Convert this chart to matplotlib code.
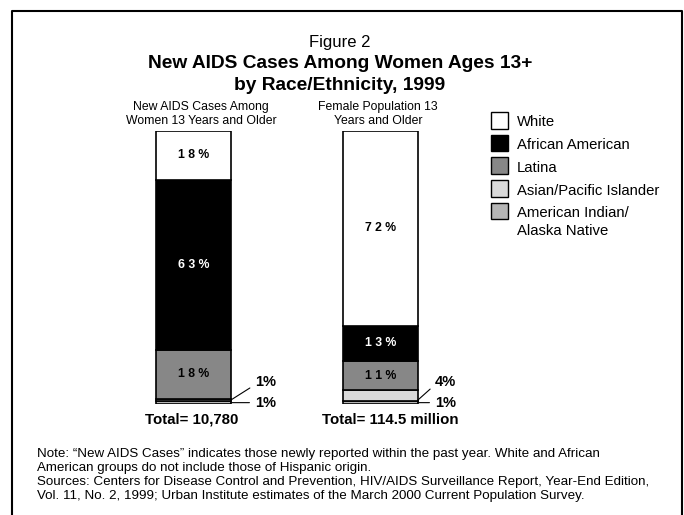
import numpy as np
import matplotlib
matplotlib.use("Agg")
import matplotlib.pyplot as plt
from matplotlib.lines import Line2D
from matplotlib.patches import Rectangle

plt.rcParams["font.family"] = ["Liberation Sans", "DejaVu Sans"]

# =========================
# data
# =========================
groups = ["New AIDS Cases Among\nWomen 13 Years and Older",
          "Female Population 13\nYears and Older"]
races = ["White", "African American", "Latina", "Asian/Pacific Islander",
         "American Indian/\nAlaska Native"]
aids_cases = [18, 63, 18, 1, 1]      # % of new AIDS cases
female_pop = [72, 13, 11, 4, 1]      # % of female population 13+
totals = ["Total= 10,780", "Total= 114.5 million"]
colors = ["#ffffff", "#000000", "#878787", "#d9d9d9", "#b5b5b5"]

note = ("Note: \u201cNew AIDS Cases\u201d indicates those newly reported within the past year. White and African\n"
        "American groups do not include those of Hispanic origin.\n"
        "Sources: Centers for Disease Control and Prevention, HIV/AIDS Surveillance Report, Year-End Edition,\n"
        "Vol. 11, No. 2, 1999; Urban Institute estimates of the March 2000 Current Population Survey.")

# =========================
# figure (pixel helpers)
# =========================
W, H = 684, 515
fig = plt.figure(figsize=(W / 100, H / 100), dpi=100)


def fx(x):
    return x / W


def fy(y):
    return 1 - y / H


# frame around everything (open at the bottom)
fig.add_artist(Line2D([fx(12), fx(12), fx(682), fx(682)],
                      [fy(530), fy(10.5), fy(10.5), fy(530)],
                      transform=fig.transFigure, color="black", lw=1.5))

fig.text(fx(340), fy(42), "Figure 2", ha="center", va="center", fontsize=12)
fig.text(fx(340), fy(64), "New AIDS Cases Among Women Ages 13+",
         ha="center", va="center", fontsize=13.8, fontweight="bold")
fig.text(fx(340), fy(86), "by Race/Ethnicity, 1999",
         ha="center", va="center", fontsize=13.8, fontweight="bold")

# =========================
# stacked bars
# =========================
ax = fig.add_axes([fx(118), fy(404), (456 - 118) / W, 273 / H])
ax.set_xlim(-0.4037, 1.4037)
ax.set_ylim(0, 101)
ax.axis("off")

bar_w = 0.401
data = [aids_cases, female_pop]
callout_dx = [24, 17]   # px from bar edge to small labels

for i, vals in enumerate(data):
    bottom = 0
    seg_bottoms = {}
    # stack from the bottom: AI/AN, Asian, Latina, African American, White
    for k in reversed(range(len(vals))):
        v = vals[k]
        ax.bar(i, v, bottom=bottom, width=bar_w, color=colors[k],
               edgecolor="black", linewidth=1.2)
        seg_bottoms[k] = bottom
        if v >= 10:
            tc = "white" if colors[k] == "#000000" else "black"
            # spaced-out digits like the original
            ax.text(i, bottom + v / 2, " ".join(f"{v}%"), ha="center",
                    va="center", fontsize=8.8, fontweight="bold", color=tc)
        bottom += v

    right = i + bar_w / 2
    # Asian/Pacific Islander callout (diagonal)
    ax.annotate(f"{vals[3]}%", xy=(right, seg_bottoms[3] + 0.5),
                xytext=(callout_dx[i], 18), textcoords="offset pixels",
                ha="left", va="center", fontsize=10.5, fontweight="bold",
                arrowprops=dict(arrowstyle="-", color="black", lw=0.8,
                                shrinkA=2, shrinkB=0, relpos=(0, 0.3)),
                annotation_clip=False)
    # American Indian/Alaska Native callout (horizontal)
    ax.annotate(f"{vals[4]}%", xy=(right, seg_bottoms[4] + 0.5),
                xytext=(callout_dx[i], 0), textcoords="offset pixels",
                ha="left", va="center", fontsize=10.5, fontweight="bold",
                arrowprops=dict(arrowstyle="-", color="black", lw=0.8,
                                shrinkA=2, shrinkB=0, relpos=(0, 0.5)),
                annotation_clip=False)

# group headers and totals
fig.text(fx(201), fy(114), groups[0], ha="center", va="center", fontsize=8.8,
         linespacing=1.15)
fig.text(fx(378), fy(114), groups[1], ha="center", va="center", fontsize=8.8,
         linespacing=1.15)
fig.text(fx(191.5), fy(420), totals[0], ha="center", va="center",
         fontsize=10.8, fontweight="bold")
fig.text(fx(390), fy(420), totals[1], ha="center", va="center",
         fontsize=10.8, fontweight="bold")

# =========================
# legend (drawn by hand)
# =========================
for k, (race, c) in enumerate(zip(races, colors)):
    top = 112 + 22.7 * k
    fig.add_artist(Rectangle((fx(491), fy(top + 16.5)), 17 / W, 16.5 / H,
                             transform=fig.transFigure, facecolor=c,
                             edgecolor="black", lw=1.0))
    fig.text(fx(517), fy(top + 3.5), race, ha="left", va="top", fontsize=10.7,
             linespacing=1.3)

# =========================
# notes
# =========================
fig.text(fx(37), fy(448), note, ha="left", va="top", fontsize=9.6,
         linespacing=1.24)

fig.savefig("out.png", dpi=100)
